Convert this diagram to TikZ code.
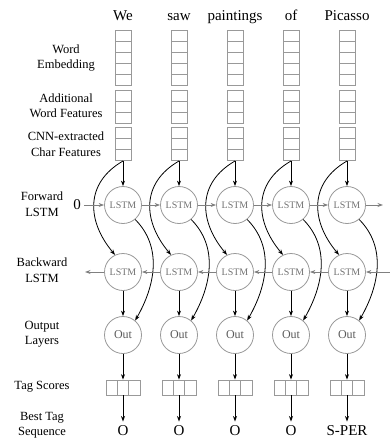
\documentclass[tikz,border=0pt]{standalone}
\usepackage{fontspec}
\setmainfont{Liberation Serif}
\usetikzlibrary{arrows.meta}
\tikzset{
  cell/.style={draw=gray!80, line width=0.8pt, minimum width=16pt, minimum height=11.1pt, inner sep=0pt},
  tagcell/.style={draw=gray!80, line width=0.8pt, minimum width=11.3pt, minimum height=15pt, inner sep=0pt},
  unit/.style={circle, draw=gray!80, line width=0.8pt, minimum size=37pt, inner sep=0pt},
  lstm/.style={unit, text=black!55, font=\fontsize{10}{10}\selectfont},
  outnode/.style={unit, text=black!65, font=\fontsize{12}{12}\selectfont},
  word/.style={font=\fontsize{15}{15}\selectfont},
  lbl/.style={align=center, font=\fontsize{12.5}{15.5}\selectfont},
  link/.style={->, line width=0.8pt},
  rec/.style={->, line width=0.8pt, gray}
}
\begin{document}
\begin{tikzpicture}[x=1pt, y=-1pt, >={Stealth[length=5.5pt,width=4pt]}]
\useasboundingbox (0,0) rectangle (390,439);
\node[lbl] (lemb) at (66,58) {Word\\Embedding};
\node[lbl] (lfeat) at (66,106) {Additional\\Word Features};
\node[lbl] (lchar) at (66,144) {CNN-extracted\\Char Features};
\node[lbl] (lfwd) at (42,204) {Forward\\LSTM};
\node[lbl] (lbwd) at (42,270) {Backward\\LSTM};
\node[lbl] (lout) at (42,334) {Output\\Layers};
\node[lbl] (ltag) at (42,387) {Tag Scores};
\node[lbl] (lseq) at (42,425) {Best Tag\\Sequence};
\node[word] (zero) at (77,205) {0};
\coordinate (fend) at (383,205);
\coordinate (bstart) at (390,272);
\coordinate (bend) at (85,272);
\foreach \w/\t [count=\i, evaluate=\i as \x using 67+56*\i] in {We/O, saw/O, paintings/O, of/O, Picasso/S-PER} {
  \node[word, anchor=base] (w\i) at (\x,20) {\w};
  \foreach \k in {1,...,5} \node[cell] (emb\i\k) at (\x,24.45+11.1*\k) {};
  \foreach \k in {1,...,3} {
    \node[cell] (feat\i\k) at (\x,84.45+11.1*\k) {};
    \node[cell] (char\i\k) at (\x,121.75+11.1*\k) {};
    \node[tagcell] (tag\i\k) at (\x-22.6+11.3*\k,387.5) {};
  }
  \node[lstm] (f\i) at (\x,205) {LSTM};
  \node[lstm] (b\i) at (\x,272) {LSTM};
  \node[outnode] (o\i) at (\x,335) {Out};
  \node[word, anchor=base] (t\i) at (\x,435) {\t};
  \draw[link] (char\i3.south) -- (f\i);
  \draw[link] (char\i3.south) to[out=210, in=130, looseness=1.2] (b\i.115);
  \draw[link] (f\i.-50) to[out=-45, in=60] (o\i.50);
  \draw[link] (b\i) -- (o\i);
  \draw[link] (o\i) -- (tag\i2);
  \draw[link] (tag\i2) -- (t\i);
}
\draw[rec] (zero) -- (f1);
\foreach \i [count=\j from 2] in {1,...,4} {
  \draw[rec] (f\i) -- (f\j);
  \draw[rec] (b\j) -- (b\i);
}
\draw[rec] (f5) -- (fend);
\draw[rec] (bstart) -- (b5);
\draw[rec] (b1) -- (bend);
\end{tikzpicture}
\end{document}
